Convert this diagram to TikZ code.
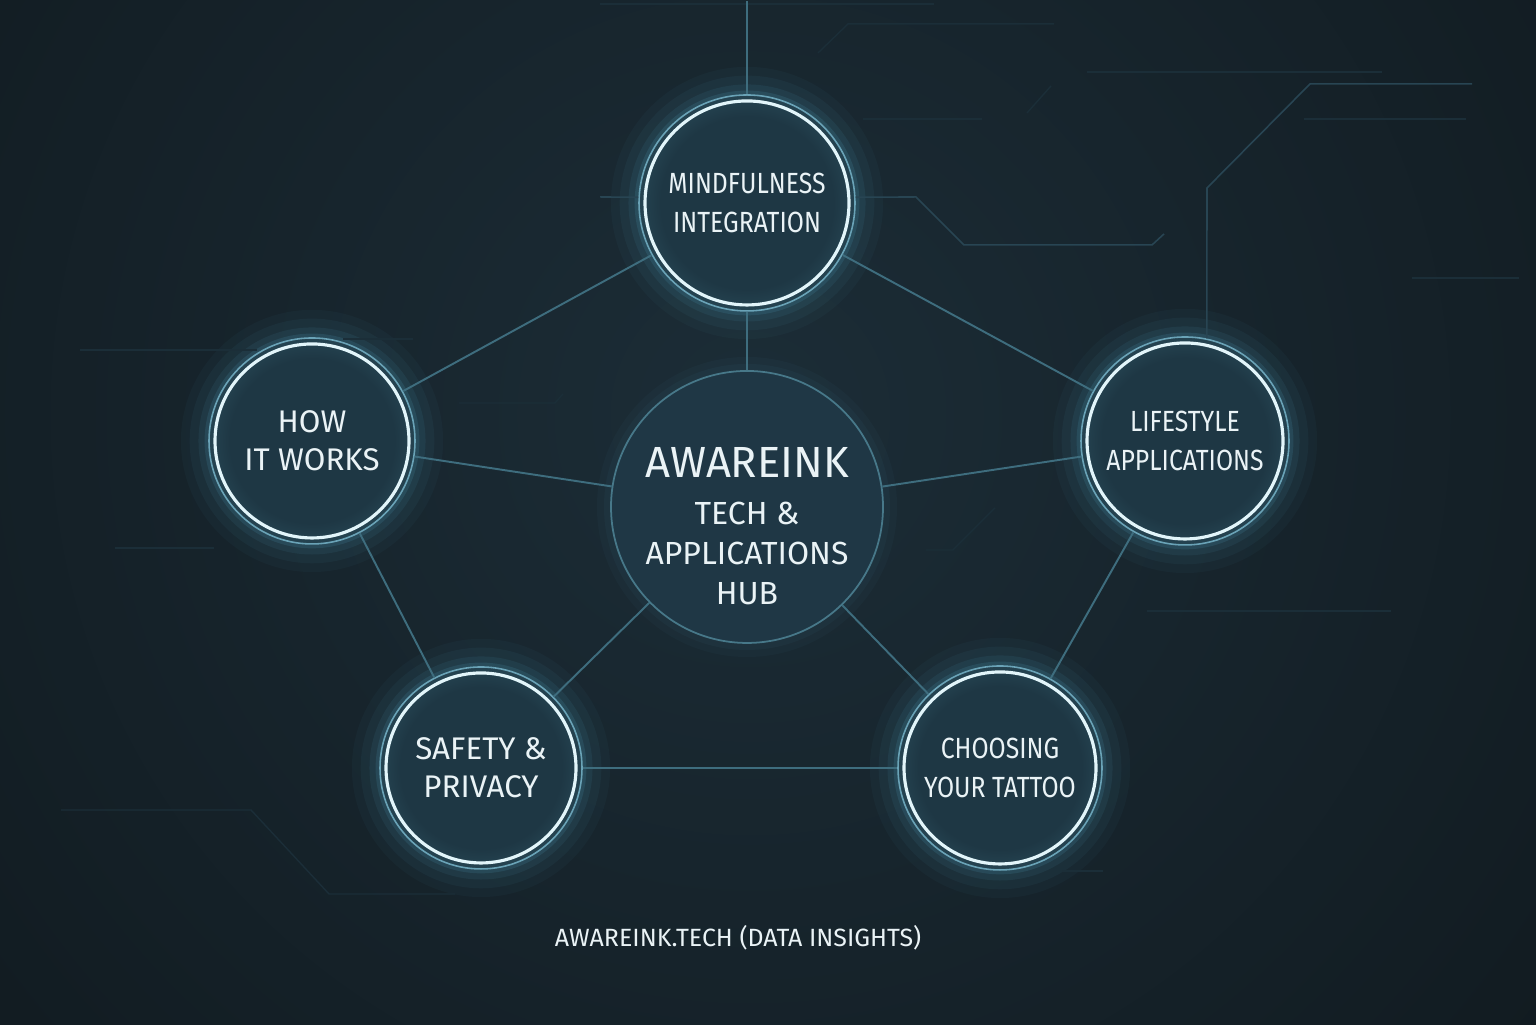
\documentclass[tikz,border=0pt]{standalone}
\usepackage{fontspec}
\usetikzlibrary{backgrounds}
\newfontfamily\orbfont{Fira Sans}
\newfontfamily\orbnarrow[FakeStretch=0.85]{Fira Sans}

\definecolor{bgin}{HTML}{1C2D37}
\definecolor{bgout}{HTML}{0D1418}
\definecolor{orbin}{HTML}{1E3744}
\definecolor{orbout}{HTML}{34606F}
\definecolor{hubin}{HTML}{1F3745}
\definecolor{hubout}{HTML}{1A2E3A}
\definecolor{ringc}{HTML}{6AA3B7}
\definecolor{ringw}{HTML}{E2F5FA}
\definecolor{glowc}{HTML}{5CBBDD}
\definecolor{linkc}{HTML}{3E6D7E}
\definecolor{tracec}{HTML}{1B2E38}
\definecolor{tracelit}{HTML}{284553}
\definecolor{textc}{HTML}{EAF3F6}

\pgfdeclareradialshading{orbglow}{\pgfpoint{0bp}{0bp}}{color(0bp)=(orbin); color(20bp)=(orbin); color(36bp)=(orbout); color(70bp)=(orbout)}
\pgfdeclareradialshading{hubglow}{\pgfpoint{0bp}{0bp}}{color(0bp)=(hubin); color(30bp)=(hubin); color(40bp)=(hubout); color(70bp)=(hubout)}

\tikzstyle{link}=[draw=linkc, line width=0.55pt]
\tikzstyle{trace}=[draw=tracec, line width=0.4pt]
\tikzstyle{trace-lit}=[draw=tracelit, line width=0.45pt]
\tikzstyle{hub-node}=[circle, minimum size=2.72cm, inner sep=0pt, draw=linkc!80!ringc, line width=0.5pt, shade, shading=hubglow,
    preaction={draw=glowc, line width=8pt, draw opacity=0.03},
    preaction={draw=glowc, line width=4pt, draw opacity=0.04}]
\tikzstyle{hub-label}=[text=textc, align=center, inner sep=0pt, font=\orbfont\fontsize{9.1}{11.4}\selectfont]
\tikzstyle{footer}=[text=textc, inner sep=0pt, font=\orbfont\fontsize{7.1}{8.5}\selectfont]
\tikzset{
    topic-node/.style={circle, minimum size=2*#1cm, inner sep=0pt, draw=ringc, line width=0.45pt,
        shade, shading=orbglow, text=textc, align=center,
        font=\orbfont\fontsize{8.9}{10.9}\selectfont,
        preaction={draw=glowc, line width=16pt, draw opacity=0.035},
        preaction={draw=glowc, line width=11pt, draw opacity=0.05},
        preaction={draw=glowc, line width=6pt, draw opacity=0.08},
        preaction={draw=glowc, line width=2.5pt, draw opacity=0.12},
        path picture={\draw[draw=ringw, line width=0.9pt] (path picture bounding box.center) circle ({#1-0.06});}},
    narrow/.style={font=\orbnarrow\fontsize{8.3}{10.9}\selectfont}
}

\begin{document}
\begin{tikzpicture}
    % backdrop
    \fill[bgout] (0,0) rectangle (15.36,10.24);
    \begin{scope}
        \clip (0,0) rectangle (15.36,10.24);
        \shade[inner color=bgin, outer color=bgout] (7.5,6.1) circle (14);
    \end{scope}

    % topics round the hub
    \node[hub-node] (hub) at (7.47,5.18) {};
    \node[topic-node=1.08, narrow] (mind) at (7.47,8.22) {MINDFULNESS\\INTEGRATION};
    \node[topic-node=1.03] (how) at (3.12,5.84) {HOW\\IT WORKS};
    \node[topic-node=1.04, narrow] (life) at (11.85,5.84) {LIFESTYLE\\APPLICATIONS};
    \node[topic-node=1.01] (safe) at (4.81,2.57) {SAFETY \&\\PRIVACY};
    \node[topic-node=1.02, narrow] (choose) at (10.00,2.57) {CHOOSING\\YOUR TATTOO};
    \coordinate (top-end) at (7.47,10.24);

    % circuit traces
    \draw[trace] (6.00,10.21) -- (9.34,10.21);
    \draw[trace] (8.18,9.72) -- (8.48,10.01) -- (10.54,10.01);
    \draw[trace] (10.87,9.53) -- (13.82,9.53);
    \draw[trace-lit] (14.72,9.41) -- (13.10,9.41) -- (12.07,8.37) -- (life.78);
    \draw[trace-lit] (mind.3) -- (9.16,8.28) -- (9.64,7.80) -- (11.52,7.80) -- (11.64,7.91);
    \draw[trace-lit] (mind.177) -- (6.00,8.28);
    \draw[trace] (8.63,9.06) -- (9.82,9.06);
    \draw[trace] (10.27,9.12) -- (10.51,9.39);
    \draw[trace] (13.04,9.06) -- (14.66,9.06);
    \draw[trace] (14.12,7.47) -- (15.19,7.47);
    \draw[trace] (0.80,6.75) -- (2.57,6.75);
    \draw[trace] (3.43,6.86) -- (4.13,6.86);
    \draw[trace] (4.59,6.22) -- (5.55,6.22) -- (5.63,6.31);
    \draw[trace] (1.15,4.77) -- (2.14,4.77);
    \draw[trace] (0.61,2.15) -- (2.51,2.15) -- (3.29,1.31) -- (4.55,1.31);
    \draw[trace] (11.47,4.14) -- (13.91,4.14);
    \draw[trace] (9.26,4.75) -- (9.53,4.75) -- (9.95,5.17);
    \draw[trace] (10.62,1.54) -- (11.03,1.54);

    % links
    \draw[link] (top-end) -- (mind);
    \foreach \a/\b in {mind/how, mind/life, mind/hub, how/hub, life/hub, how/safe, life/choose, safe/hub, choose/hub, safe/choose}
        \draw[link] (\a) -- (\b);

    \node[hub-label] (hub-title) at ([yshift=-0.19cm]hub.center) {{\fontsize{12.4}{13}\selectfont AWAREINK}\\[2pt]TECH \&\\APPLICATIONS\\HUB};
    \node[footer] (credit) at (7.38,0.87) {AWAREINK.TECH (DATA INSIGHTS)};
\end{tikzpicture}
\end{document}
